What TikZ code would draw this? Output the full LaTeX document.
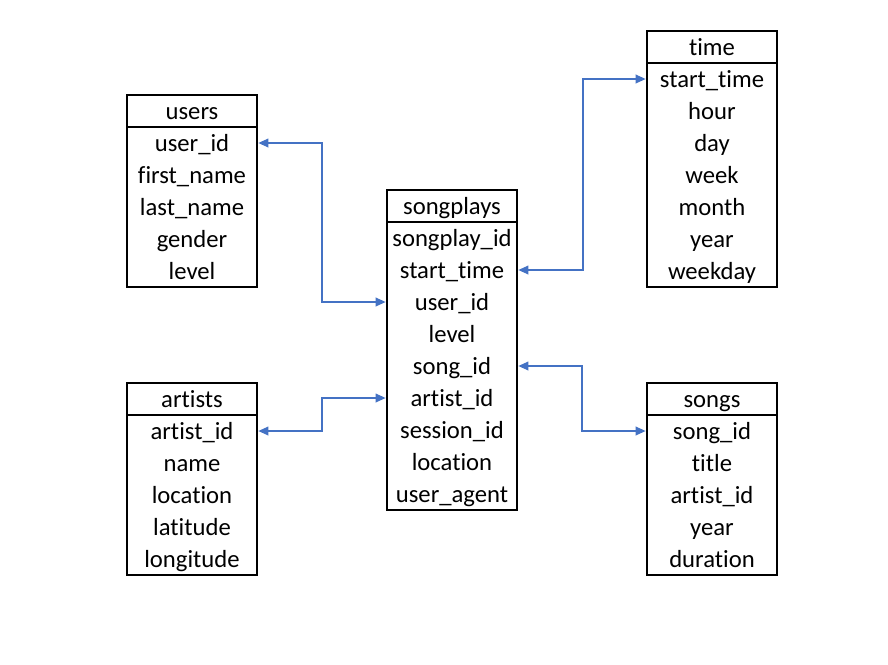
\documentclass[tikz,border=0pt]{standalone}
\usepackage{fontspec}
\setmainfont{Carlito}[Ligatures=NoCommon]
\usepackage{tikz}
\usetikzlibrary{arrows.meta,positioning,fit}
\definecolor{LinkBlue} {HTML}{4472C4}
\definecolor{FrameInk} {HTML}{000000}

\tikzset{
  tblhead/.style={draw=FrameInk,line width=1.5pt,minimum width=97.5pt,
                  minimum height=24pt,inner sep=0pt,outer sep=0pt,
                  text height=15pt,text depth=2pt},
  tblrow/.style={minimum width=97.5pt,minimum height=24pt,inner sep=0pt,outer sep=0pt,
                 text height=15pt,text depth=2pt},
  tblbody/.style={draw=FrameInk,line width=1.5pt,inner sep=0pt,outer sep=0pt},
  fk/.style={draw=LinkBlue,line width=1.1pt,
             {Triangle[length=7.5pt,width=6.5pt]}-{Triangle[length=7.5pt,width=6.5pt]},
             shorten <=1pt,shorten >=1pt},
}

% table: name, left, top, title, rows, number of rows
\newcommand{\dbtable}[6]{%
  \node[tblhead] (#1) at (#2+65,#3+16) {#4};
  \foreach \fld [count=\i] in {#5}
    \node[tblrow] (#1-\i) at (#2+65,#3+16+32*\i) {\fld};
  \node[tblbody,fit=(#1-1)(#1-#6)] (#1-box) {};
}

\begin{document}
\begin{tikzpicture}[x=0.75pt,y=-0.75pt,font=\fontsize{18.5}{20}\selectfont]
  \useasboundingbox (0,0) rectangle (888,664);

  \dbtable{users}{127}{95}{users}%
    {user\_id,first\_name,last\_name,gender,level}{5}
  \dbtable{songplays}{387}{190}{songplays}%
    {songplay\_id,start\_time,user\_id,level,song\_id,artist\_id,session\_id,location,user\_agent}{9}
  \dbtable{time}{647}{31}{time}%
    {start\_time,hour,day,week,month,year,weekday}{7}
  \dbtable{artists}{127}{383}{artists}%
    {artist\_id,name,location,latitude,longitude}{5}
  \dbtable{songs}{647}{383}{songs}%
    {song\_id,title,artist\_id,year,duration}{5}

  % foreign keys
  \draw[fk] (users-1.east) -- ++(65,0) |- (songplays-3.west);
  \draw[fk] (time-1.west) -- ++(-64,0) |- (songplays-2.east);
  \draw[fk] (artists-1.east) -- ++(65,0) |- (songplays-6.west);
  \draw[fk] (songs-1.west) -- ++(-65,0) |- (songplays-5.east);
\end{tikzpicture}
\end{document}
